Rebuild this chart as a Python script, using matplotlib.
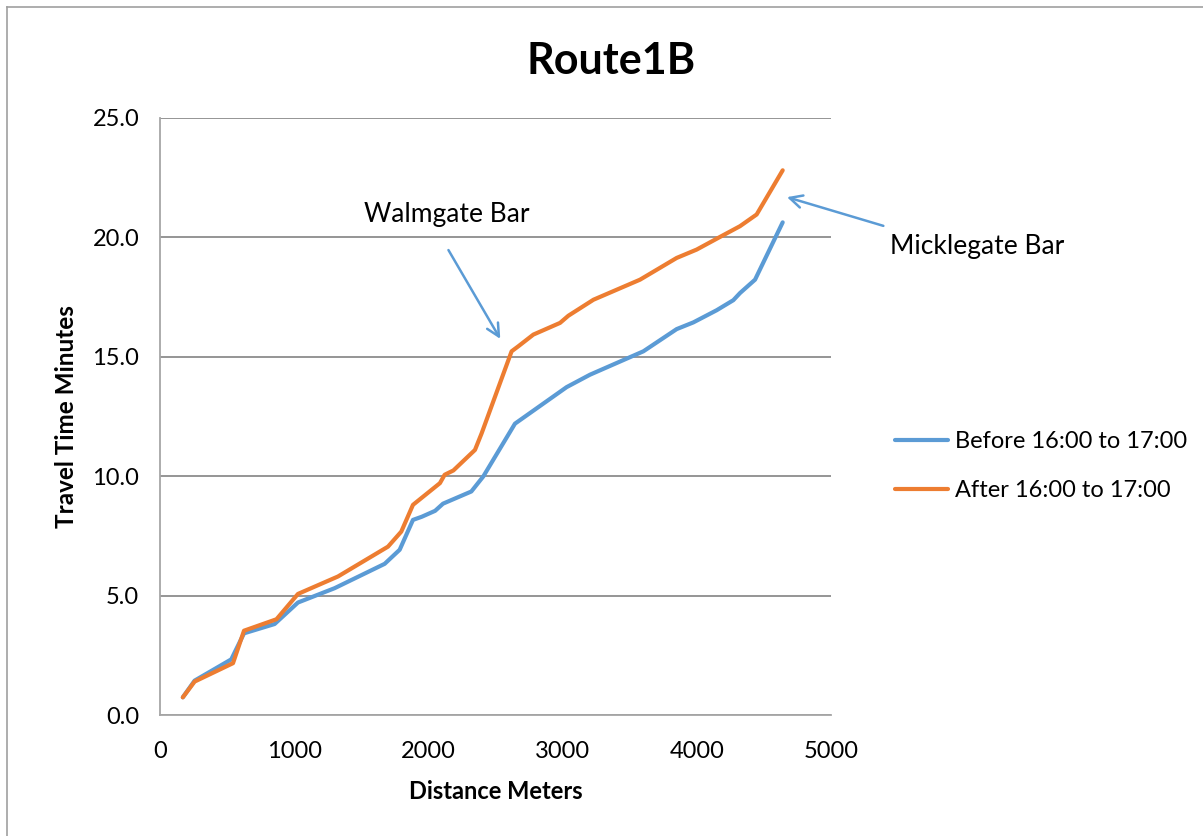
import matplotlib.pyplot as plt
from matplotlib.lines import Line2D
from matplotlib.ticker import FormatStrFormatter

plt.rcParams['font.family'] = ['Lato', 'DejaVu Sans']

# values
dist_before = [170, 258, 531, 626, 854, 1028, 1301, 1674, 1786, 1885, 1950, 2050, 2109,
               2320, 2409, 2645, 3030, 3204, 3602, 3850, 3974, 4148, 4272, 4322, 4434, 4640]
before = [0.74, 1.44, 2.33, 3.42, 3.81, 4.71, 5.31, 6.33, 6.92, 8.17, 8.30, 8.55, 8.85,
          9.36, 9.99, 12.2, 13.73, 14.25, 15.23, 16.16, 16.44, 16.95, 17.37, 17.67, 18.23, 20.63]

dist_after = [170, 258, 544, 626, 868, 1028, 1326, 1699, 1798, 1885, 2086, 2121, 2186,
              2347, 2397, 2620, 2670, 2782, 2981, 3043, 3230, 3577, 3850, 3999, 4173,
              4322, 4446, 4640]
after = [0.74, 1.40, 2.17, 3.53, 4.01, 5.07, 5.80, 7.05, 7.68, 8.80, 9.71, 10.06, 10.24,
         11.1, 11.8, 15.23, 15.44, 15.93, 16.42, 16.72, 17.39, 18.23, 19.14, 19.49, 20.02,
         20.47, 20.96, 22.81]

series_names = ['Before 16:00 to 17:00', 'After 16:00 to 17:00']
blue = '#5B9BD5'
orange = '#ED7D31'

fig = plt.figure(figsize=(12.03, 8.36), dpi=100)
ax = fig.add_axes([160 / 1203, 121 / 836, 671 / 1203, 597 / 836])

ax.plot(dist_before, before, color=blue, lw=3, label=series_names[0], solid_capstyle='round')
ax.plot(dist_after, after, color=orange, lw=3, label=series_names[1], solid_capstyle='round')

ax.set_xlim(0, 5000)
ax.set_ylim(0, 25)
ax.set_xticks(range(0, 5001, 1000))
ax.set_yticks([0, 5, 10, 15, 20, 25])
ax.yaxis.set_major_formatter(FormatStrFormatter('%.1f'))
ax.grid(axis='y', color='#8c8c8c', lw=1.3)
ax.set_axisbelow(True)
for s in ['top', 'right']:
    ax.spines[s].set_visible(False)
for s in ['left', 'bottom']:
    ax.spines[s].set_color('#a6a6a6')
    ax.spines[s].set_linewidth(1.3)
ax.tick_params(length=0, labelsize=17)
ax.tick_params(axis='y', pad=15)
ax.tick_params(axis='x', pad=19)

ax.set_xlabel('Distance Meters', fontsize=17, fontweight='bold', labelpad=13)
ax.set_ylabel('Travel Time Minutes', fontsize=17.5, fontweight='bold', labelpad=10)
fig.text(611 / 1203, 1 - 61 / 836, 'Route1B', fontsize=31, fontweight='bold',
         ha='center', va='center')

arrow = dict(arrowstyle='->,head_length=0.9,head_width=0.45', color=blue, lw=1.8)
ax.annotate('', xy=(2546, 15.65), xytext=(2139, 19.57), arrowprops=arrow)
ax.text(2136, 20.96, 'Walmgate Bar', fontsize=19, ha='center', va='center')
ax.annotate('', xy=(4652, 21.72), xytext=(5410, 20.45), arrowprops=arrow,
            annotation_clip=False)
ax.text(5437, 19.62, 'Micklegate Bar', fontsize=19, ha='left', va='center', clip_on=False)

fig.legend(loc='center left', bbox_to_anchor=(895 / 1203, 1 - 466 / 836), frameon=False,
           fontsize=17, handlelength=2.25, handletextpad=0.3, labelspacing=1.2,
           borderpad=0, borderaxespad=0)

# outer chart border (left and top edges visible in the reference)
fig.add_artist(Line2D([7 / 1203, 7 / 1203], [0, 1 - 7 / 836], color='#a0a0a0', lw=1.2))
fig.add_artist(Line2D([7 / 1203, 1], [1 - 7 / 836, 1 - 7 / 836], color='#a0a0a0', lw=1.2))

fig.savefig('out.png', dpi=100, facecolor='white')
